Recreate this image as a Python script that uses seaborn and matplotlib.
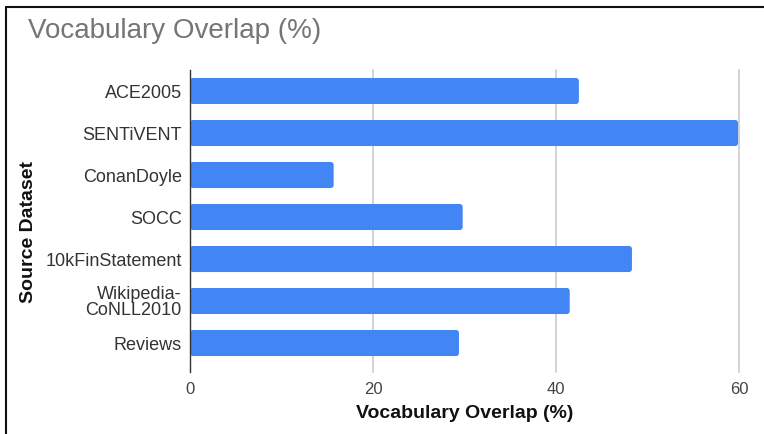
import matplotlib
matplotlib.use("Agg")
import matplotlib.pyplot as plt
from matplotlib.lines import Line2D
from matplotlib.patches import FancyBboxPatch
import seaborn as sns
import pandas as pd

categories = ["ACE2005", "SENTiVENT", "ConanDoyle", "SOCC", "10kFinStatement",
              "Wikipedia-\nCoNLL2010", "Reviews"]
overlap = [42.5, 59.9, 15.7, 29.8, 48.3, 41.5, 29.4]
x_ticks = [0, 20, 40, 60]

sns.set_theme(style="white")
plt.rcParams['font.family'] = ['Liberation Sans', 'DejaVu Sans']

df = pd.DataFrame({"Source Dataset": categories, "Vocabulary Overlap (%)": overlap})

fig = plt.figure(figsize=(7.64, 4.34), dpi=100)
ax = fig.add_axes([190/764, 1-372/434, (739-190)/764, (372-70)/434])

sns.barplot(data=df, y="Source Dataset", x="Vocabulary Overlap (%)", orient="h",
            color="#4285F4", saturation=1, width=0.62, ax=ax, zorder=3)

ax.set_xlim(0, 60)
ax.set_ylim(6.69, -0.5)

# slightly rounded bar corners (Google Charts style)
px_per_x = 549 / 60
px_per_y = 302 / 7.19
for p in list(ax.patches):
    x0, y0, w, h = p.get_x(), p.get_y(), p.get_width(), p.get_height()
    fc = p.get_facecolor()
    p.remove()
    ax.add_patch(FancyBboxPatch((x0, y0), w, h,
                                boxstyle="round,pad=0,rounding_size=%f" % (3 / px_per_x),
                                mutation_aspect=px_per_x / px_per_y,
                                facecolor=fc, edgecolor="none", zorder=3))

ax.set_xticks(x_ticks)
ax.set_xticklabels([str(t) for t in x_ticks], color="#444444", fontsize=12)
ax.tick_params(axis="y", labelsize=13, labelcolor="#333333", length=0, pad=6)
ax.tick_params(axis="x", length=0, pad=7)
for t in ax.get_yticklabels():
    t.set_linespacing(0.95)
for s in ["top", "right", "bottom"]:
    ax.spines[s].set_visible(False)
ax.spines["left"].set_color("#333333")
ax.spines["left"].set_linewidth(1.0)
ax.spines["left"].set_zorder(4)
for v in x_ticks[1:]:
    ax.axvline(v, color="#cccccc", lw=1.2, zorder=1, clip_on=False)

ax.set_xlabel("Vocabulary Overlap (%)", fontsize=14, fontweight="bold", color="#111111", labelpad=6)
ax.set_ylabel("Source Dataset", fontsize=14, fontweight="bold", color="#111111")
ax.yaxis.set_label_coords(-(190-37)/549, 0.5 - 11/302)

fig.text(28/764, 1-31/434, "Vocabulary Overlap (%)", fontsize=20, color="#757575",
         ha="left", va="center")

fig.add_artist(Line2D([6/764, 6/764], [0, 1-7/434], color="#111111", lw=1.5))
fig.add_artist(Line2D([6/764, 1], [1-7/434, 1-7/434], color="#111111", lw=1.5))

fig.savefig("out.png", dpi=100)
